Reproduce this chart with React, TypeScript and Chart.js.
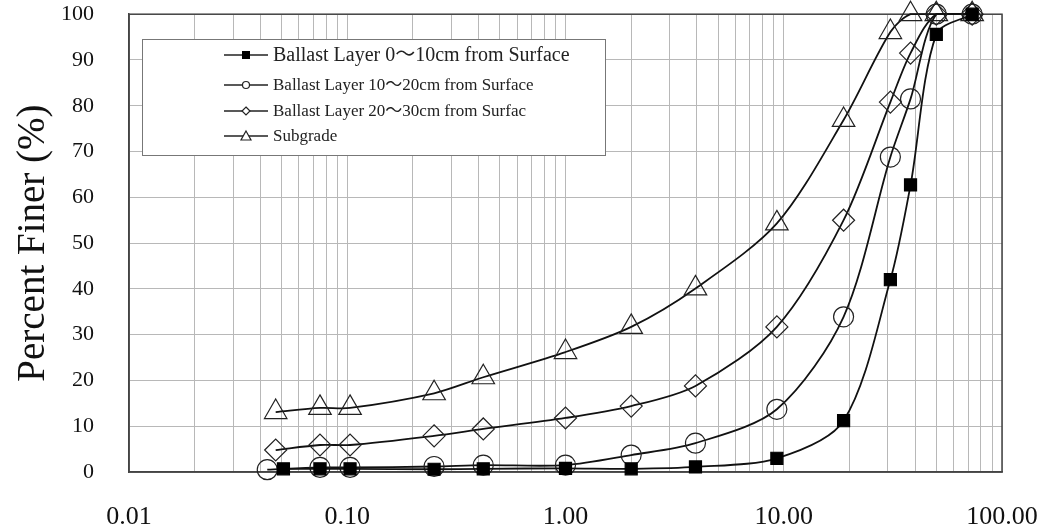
import React, { useEffect, useRef } from 'react';
import { Chart, registerables } from 'chart.js';

Chart.register(...registerables);

// ---- Data ----
const seriesNames = [
  'Ballast Layer 0～10cm from Surface',
  'Ballast Layer 10～20cm from Surface',
  'Ballast Layer 20～30cm from Surfac',
  'Subgrade',
];

// Grain size (mm) and percent finer (%)
const sizeLayer1 = [0.051, 0.075, 0.103, 0.25, 0.42, 1.0, 2.0, 3.94, 9.3, 18.8, 30.8, 38.1, 50, 73];
const passLayer1 = [0.7, 0.7, 0.7, 0.6, 0.7, 0.8, 0.7, 1.1, 3.0, 11.2, 42.0, 62.7, 95.6, 100];

const sizeLayer2 = [0.043, 0.075, 0.103, 0.25, 0.42, 1.0, 2.0, 3.94, 9.3, 18.8, 30.8, 38.1, 50, 73];
const passLayer2 = [0.5, 1.0, 1.0, 1.2, 1.5, 1.5, 3.7, 6.3, 13.7, 33.9, 68.8, 81.5, 100, 100];

const sizeLayer3 = [0.047, 0.075, 0.103, 0.25, 0.42, 1.0, 2.0, 3.94, 9.3, 18.8, 30.8, 38.1, 50, 73];
const passLayer3 = [4.8, 5.9, 5.9, 7.9, 9.4, 11.8, 14.4, 18.8, 31.7, 55.0, 80.8, 91.5, 100, 100];

const sizeSubgrade = [0.047, 0.075, 0.103, 0.25, 0.42, 1.0, 2.0, 3.94, 9.3, 18.8, 30.8, 38.1, 50, 73];
const passSubgrade = [13.1, 14.0, 14.0, 17.2, 20.7, 26.2, 31.7, 40.1, 54.3, 76.9, 96.1, 100, 100, 100];

const xMin = 0.01;
const xMax = 100;
const xDecadeExps = [-2, -1, 0, 1];
const xMultipliers = [1, 2, 3, 4, 5, 6, 7, 8, 9];
const yMin = 0;
const yMax = 100;
const yStep = 10;

const yTitle = 'Percent Finer (%)';

const FONT = "'Liberation Serif', 'Times New Roman', 'Noto Sans CJK KR', serif";

const gridX: number[] = [];
xDecadeExps.forEach((e) => {
  xMultipliers.forEach((m) => gridX.push(Number((m * Math.pow(10, e)).toPrecision(3))));
});
gridX.push(xMax);

const toPts = (xs: number[], ys: number[]) => xs.map((x, i) => ({ x, y: ys[i] }));

const pointStyles = ['rect', 'circle', 'rectRot', 'triangle'];

function drawLegendMarker(ctx: CanvasRenderingContext2D, style: string, x: number, y: number) {
  ctx.save();
  ctx.lineWidth = 1.2;
  ctx.strokeStyle = '#222';
  ctx.fillStyle = '#000';
  ctx.beginPath();
  if (style === 'rect') {
    ctx.rect(x - 4, y - 4, 8, 8);
    ctx.fill();
  } else if (style === 'circle') {
    ctx.fillStyle = '#fff';
    ctx.arc(x, y, 3.5, 0, Math.PI * 2);
    ctx.fill();
    ctx.stroke();
  } else if (style === 'rectRot') {
    ctx.fillStyle = '#fff';
    ctx.moveTo(x, y - 4);
    ctx.lineTo(x + 4, y);
    ctx.lineTo(x, y + 4);
    ctx.lineTo(x - 4, y);
    ctx.closePath();
    ctx.fill();
    ctx.stroke();
  } else {
    ctx.fillStyle = '#fff';
    ctx.moveTo(x, y - 5);
    ctx.lineTo(x + 5, y + 4);
    ctx.lineTo(x - 5, y + 4);
    ctx.closePath();
    ctx.fill();
    ctx.stroke();
  }
  ctx.restore();
}

const framePlugin = {
  id: 'frame',
  beforeDatasetsDraw(chart: any) {
    const { ctx, chartArea } = chart;
    ctx.save();
    ctx.strokeStyle = '#444';
    ctx.lineWidth = 1.5;
    ctx.strokeRect(chartArea.left, chartArea.top, chartArea.right - chartArea.left, chartArea.bottom - chartArea.top);
    ctx.restore();
  },
  afterDraw(chart: any) {
    const { ctx } = chart;
    // legend box
    const bx = 142, by = 39, bw = 463, bh = 116;
    ctx.save();
    ctx.fillStyle = '#fff';
    ctx.fillRect(bx, by, bw, bh);
    ctx.strokeStyle = '#777';
    ctx.lineWidth = 1;
    ctx.strokeRect(bx + 0.5, by + 0.5, bw, bh);
    const rows = [55, 85, 111, 136];
    const sizes = [20, 17, 17, 17];
    rows.forEach((ry, i) => {
      ctx.strokeStyle = '#222';
      ctx.lineWidth = 1.6;
      ctx.beginPath();
      ctx.moveTo(224, ry);
      ctx.lineTo(268, ry);
      ctx.stroke();
      drawLegendMarker(ctx, pointStyles[i], 246, ry);
      ctx.fillStyle = '#222';
      ctx.font = `${sizes[i]}px ${FONT}`;
      ctx.textAlign = 'left';
      ctx.textBaseline = 'middle';
      ctx.fillText(seriesNames[i], 273, ry + 1);
    });
    ctx.restore();
  },
};

export default function App() {
  const canvasRef = useRef<HTMLCanvasElement | null>(null);

  useEffect(() => {
    const canvas = canvasRef.current;
    if (!canvas) return;
    const common = {
      borderColor: '#111',
      borderWidth: 1.8,
      pointBorderColor: '#222',
      pointBorderWidth: 1.2,
      tension: 0.3,
      clip: false as const,
      fill: false,
    };
    const chart = new Chart(canvas, {
      type: 'line',
      data: {
        datasets: [
          {
            ...common,
            label: seriesNames[0],
            data: toPts(sizeLayer1, passLayer1),
            pointStyle: 'rect',
            pointRadius: 8.5,
            pointBackgroundColor: '#000',
            pointBorderColor: '#000',
          },
          {
            ...common,
            label: seriesNames[1],
            data: toPts(sizeLayer2, passLayer2),
            pointStyle: 'circle',
            pointRadius: 10,
            pointBackgroundColor: 'rgba(0,0,0,0)',
          },
          {
            ...common,
            label: seriesNames[2],
            data: toPts(sizeLayer3, passLayer3),
            pointStyle: 'rectRot',
            pointRadius: 11,
            pointBackgroundColor: 'rgba(0,0,0,0)',
          },
          {
            ...common,
            label: seriesNames[3],
            data: toPts(sizeSubgrade, passSubgrade),
            pointStyle: 'triangle',
            pointRadius: 13,
            pointBackgroundColor: 'rgba(0,0,0,0)',
          },
        ],
      },
      options: {
        responsive: false,
        maintainAspectRatio: false,
        animation: false,
        layout: { padding: { left: 0, top: 14, right: 37, bottom: 0 } },
        plugins: {
          legend: { display: false },
          tooltip: { enabled: false },
          title: { display: false },
        },
        scales: {
          x: {
            type: 'logarithmic',
            min: xMin,
            max: xMax,
            afterBuildTicks: (scale: any) => {
              scale.ticks = gridX.map((v) => ({ value: v }));
            },
            afterFit: (scale: any) => {
              scale.height = 60;
              scale.paddingLeft = 0;
              scale.paddingRight = 0;
            },
            ticks: {
              autoSkip: false,
              maxRotation: 0,
              minRotation: 0,
              padding: 30,
              color: '#111',
              font: { family: FONT, size: 26 },
              callback: (value: any) => {
                const v = Number(value);
                const l = Math.log10(v);
                return Math.abs(l - Math.round(l)) < 1e-9 ? v.toFixed(2) : '';
              },
            },
            grid: { color: '#b8b8b8', lineWidth: 1, drawTicks: false },
            border: { display: true, color: '#444', width: 1.5 },
          },
          y: {
            type: 'linear',
            min: yMin,
            max: yMax,
            afterFit: (scale: any) => {
              scale.width = 129;
              scale.paddingTop = 0;
              scale.paddingBottom = 0;
            },
            ticks: {
              stepSize: yStep,
              padding: 35,
              color: '#111',
              font: { family: FONT, size: 22 },
            },
            title: {
              display: true,
              text: yTitle,
              color: '#111',
              font: { family: FONT, size: 39 },
              padding: { top: 10, bottom: 0 },
            },
            grid: { color: '#b8b8b8', lineWidth: 1, drawTicks: false },
            border: { display: true, color: '#444', width: 1.5 },
          },
        },
      },
      plugins: [framePlugin],
    } as any);
    return () => chart.destroy();
  }, []);

  return (
    <div style={{ position: 'fixed', left: 0, top: 0, width: 1039, height: 532, background: '#fff' }}>
      <canvas ref={canvasRef} width={1039} height={532} />
    </div>
  );
}
